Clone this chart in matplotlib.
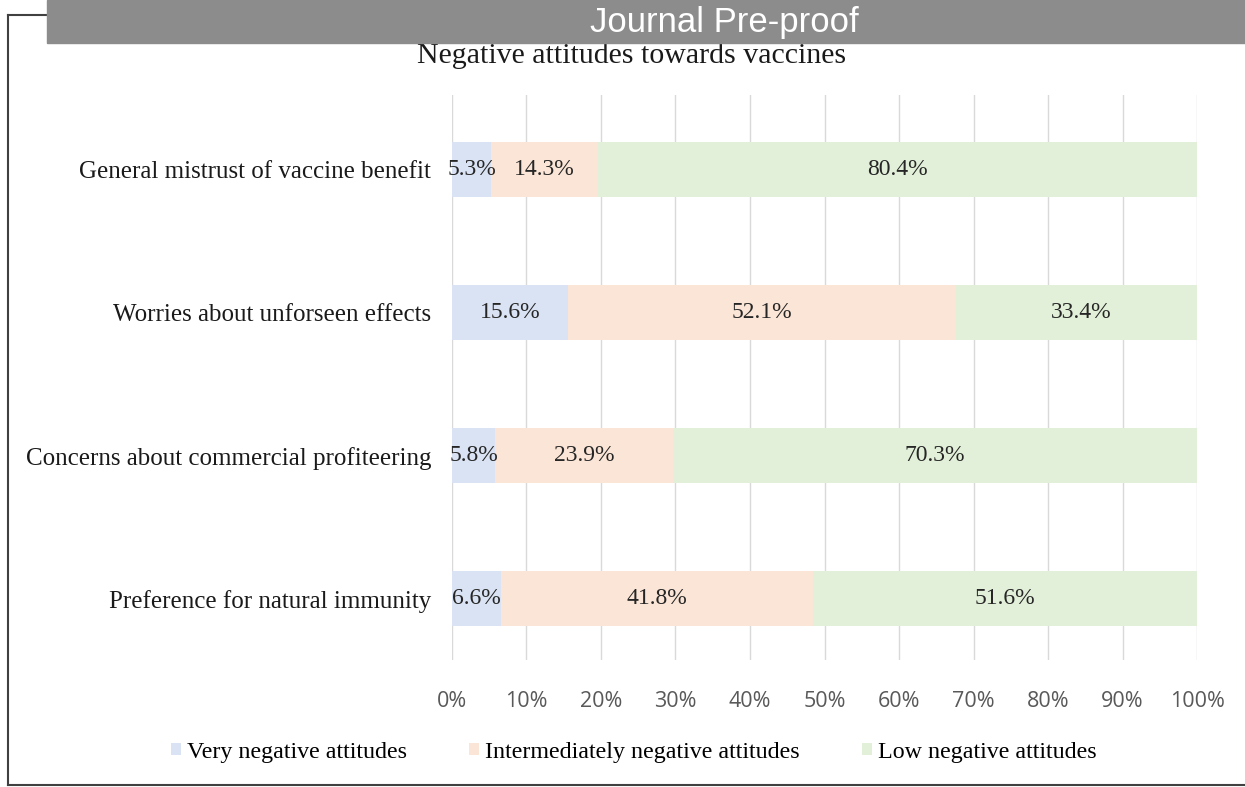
import matplotlib.pyplot as plt
import numpy as np
from matplotlib.patches import Rectangle
from matplotlib.lines import Line2D

categories = ["General mistrust of vaccine benefit",
              "Worries about unforseen effects",
              "Concerns about commercial profiteering",
              "Preference for natural immunity"]
very_neg = [5.3, 15.6, 5.8, 6.6]
inter_neg = [14.3, 52.1, 23.9, 41.8]
low_neg = [80.4, 33.4, 70.3, 51.6]
series_names = ["Very negative attitudes",
                "Intermediately negative attitudes",
                "Low negative attitudes"]
colors = ["#dae3f3", "#fbe5d6", "#e2f0d9"]
xticks = list(range(0, 101, 10))

serif = "Liberation Serif"
sans = "Open Sans"

fig = plt.figure(figsize=(12.45, 7.87), dpi=100)
ax = fig.add_axes([0.363, 0.161, 0.5985, 0.718])

y = np.arange(len(categories))[::-1]
left = np.zeros(len(categories))
for vals, col, name in zip([very_neg, inter_neg, low_neg], colors, series_names):
    vals = np.array(vals)
    ax.barh(y, vals, left=left, height=0.385, color=col, label=name, zorder=2)
    for yi, l, v in zip(y, left, vals):
        ax.text(l + v / 2, yi, f"{v:.1f}%", ha="center", va="center",
                fontsize=17, family=serif, color="#262626", zorder=3)
    left = left + vals

ax.set_xlim(0, 100)
ax.set_ylim(-0.43, 3.52)
ax.set_xticks(xticks)
ax.set_xticklabels([f"{t}%" for t in xticks], family=sans, fontsize=15.5, color="#595959")
ax.set_yticks(y)
ax.set_yticklabels(categories, family=serif, fontsize=18, color="#1a1a1a")
ax.tick_params(axis="x", length=0, pad=22)
ax.tick_params(axis="y", length=0, pad=15)
ax.grid(axis="x", color="#d9d9d9", linewidth=1, zorder=0)
for s in ax.spines.values():
    s.set_visible(False)

handles, labels = ax.get_legend_handles_labels()
leg = fig.legend(handles, labels, loc="center", bbox_to_anchor=(0.509, 0.044), ncol=3,
                 frameon=False, handlelength=0.4, handleheight=0.4, handletextpad=0.25,
                 columnspacing=2.6, prop={"family": serif, "size": 17.3})

fig.text(0.507, 0.929, "Negative attitudes towards vaccines", ha="center", va="center",
         family=serif, fontsize=21.5, color="#1a1a1a")

# figure frame
fig.add_artist(Line2D([0.0065, 0.0065], [0.003, 0.981], color="#404040", lw=1.5))
fig.add_artist(Line2D([0.0065, 0.05], [0.981, 0.981], color="#404040", lw=1.5))
fig.add_artist(Line2D([0.0065, 1.0], [0.003, 0.003], color="#404040", lw=1.5))

# pre-proof banner
fig.add_artist(Rectangle((0.038, 0.945), 0.962, 0.055, transform=fig.transFigure,
                         color="#8c8c8c", zorder=5))
fig.text(0.582, 0.972, "Journal Pre-proof", ha="center", va="center", color="white",
         fontsize=25, family="Liberation Sans", zorder=6)

fig.savefig("out.png", dpi=100)
